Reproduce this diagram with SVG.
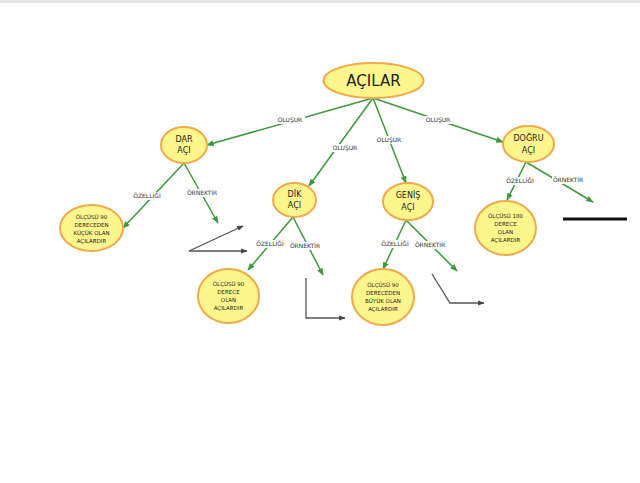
<svg xmlns="http://www.w3.org/2000/svg" width="640" height="483" viewBox="0 0 640 483">
<defs>
<marker id="ga" viewBox="0 0 10 10" refX="9" refY="5" markerWidth="5" markerHeight="5" orient="auto"><path d="M0,1 L10,5 L0,9 z" fill="#3c9a3c"/></marker>
<marker id="ka" viewBox="0 0 10 10" refX="9" refY="5" markerWidth="5" markerHeight="5" orient="auto"><path d="M0,1 L10,5 L0,9 z" fill="#444"/></marker>
<style>
.n{fill:#fdf68c;stroke:#f2a94a;stroke-width:2}
.t{font-family:"DejaVu Sans",sans-serif;fill:#222;text-anchor:middle}
.c{stroke:#3c9a3c;stroke-width:1.5;fill:none;marker-end:url(#ga)}
.g{stroke:#555;stroke-width:1.3;fill:none;marker-end:url(#ka)}
.lb{fill:#fff}
.l{font-family:"DejaVu Sans",sans-serif;font-size:6px;fill:#333;text-anchor:middle}
</style>
</defs>
<rect x="0" y="0" width="640" height="483" fill="#fff"/>
<rect x="0" y="0" width="640" height="3" fill="#e6e6e6"/>
<g id="connectors">
<line class="c" x1="373" y1="98" x2="207" y2="145"/>
<line class="c" x1="373" y1="98" x2="309" y2="186"/>
<line class="c" x1="373" y1="98" x2="406" y2="183"/>
<line class="c" x1="373" y1="98" x2="503" y2="142"/>
<line class="c" x1="184" y1="163" x2="123" y2="228"/>
<line class="c" x1="184" y1="163" x2="218" y2="223"/>
<line class="c" x1="293" y1="217" x2="248" y2="270"/>
<line class="c" x1="293" y1="217" x2="323" y2="275"/>
<line class="c" x1="406" y1="220" x2="383" y2="269"/>
<line class="c" x1="406" y1="220" x2="457" y2="271"/>
<line class="c" x1="526" y1="162" x2="507" y2="200"/>
<line class="c" x1="526" y1="162" x2="593" y2="202"/>
<g id="labels">
<rect class="lb" x="275" y="116" width="30" height="8"/><text class="l" x="290" y="122">OLUŞUR</text>
<rect class="lb" x="330" y="144" width="30" height="8"/><text class="l" x="345" y="150">OLUŞUR</text>
<rect class="lb" x="374" y="136" width="30" height="8"/><text class="l" x="389" y="142">OLUŞUR</text>
<rect class="lb" x="423" y="116" width="30" height="8"/><text class="l" x="438" y="122">OLUŞUR</text>
<rect class="lb" x="131" y="192" width="32" height="8"/><text class="l" x="147" y="198">ÖZELLİĞİ</text>
<rect class="lb" x="186" y="189" width="32" height="8"/><text class="l" x="202" y="195">ÖRNEKTİR</text>
<rect class="lb" x="254" y="240" width="32" height="8"/><text class="l" x="270" y="246">ÖZELLİĞİ</text>
<rect class="lb" x="289" y="242" width="32" height="8"/><text class="l" x="305" y="248">ÖRNEKTİR</text>
<rect class="lb" x="379" y="240" width="32" height="8"/><text class="l" x="395" y="246">ÖZELLİĞİ</text>
<rect class="lb" x="414" y="241" width="32" height="8"/><text class="l" x="430" y="247">ÖRNEKTİR</text>
<rect class="lb" x="504" y="177" width="32" height="8"/><text class="l" x="520" y="183">ÖZELLİĞİ</text>
<rect class="lb" x="552" y="176" width="32" height="8"/><text class="l" x="568" y="182">ÖRNEKTİR</text>
</g>
</g>
<g id="examples">
<line class="g" x1="189" y1="251" x2="243" y2="226"/>
<line class="g" x1="189" y1="251" x2="247" y2="251"/>
<polyline class="g" points="306,278 306,318 345,318"/>
<polyline class="g" points="432,274 450,303 484,303"/>
<line x1="563" y1="219" x2="627" y2="219" stroke="#111" stroke-width="3"/>
</g>
<g id="acilar"><ellipse class="n" cx="373.5" cy="80.5" rx="50" ry="17.5"/><text class="t" x="373.5" y="86" font-size="15">AÇILAR</text></g>
<g id="dar"><ellipse class="n" cx="184" cy="145" rx="23" ry="18"/><text class="t" x="184" y="142" font-size="8">DAR</text><text class="t" x="184" y="153" font-size="8">AÇI</text></g>
<g id="dik"><ellipse class="n" cx="294.5" cy="200" rx="21.5" ry="17"/><text class="t" x="294.5" y="197" font-size="8">DİK</text><text class="t" x="294.5" y="208" font-size="8">AÇI</text></g>
<g id="genis"><ellipse class="n" cx="408" cy="201.5" rx="25" ry="18.5"/><text class="t" x="408" y="198" font-size="8">GENİŞ</text><text class="t" x="408" y="210" font-size="8">AÇI</text></g>
<g id="dogru"><ellipse class="n" cx="528.5" cy="144" rx="25.5" ry="18"/><text class="t" x="528.5" y="141" font-size="8">DOĞRU</text><text class="t" x="528.5" y="153" font-size="8">AÇI</text></g>
<g id="dar-ozellik"><ellipse class="n" cx="91.5" cy="228" rx="31.5" ry="23"/><text class="t" font-size="5.5" x="91.5"><tspan x="91.5" y="219">ÖLÇÜSÜ 90</tspan><tspan x="91.5" y="227">DERECEDEN</tspan><tspan x="91.5" y="235">KÜÇÜK OLAN</tspan><tspan x="91.5" y="243">AÇILARDIR</tspan></text></g>
<g id="dik-ozellik"><ellipse class="n" cx="228.5" cy="296" rx="30.5" ry="27"/><text class="t" font-size="5.5"><tspan x="228.5" y="286">ÖLÇÜSÜ 90</tspan><tspan x="228.5" y="294">DERECE</tspan><tspan x="228.5" y="302">OLAN</tspan><tspan x="228.5" y="310">AÇILARDIR</tspan></text></g>
<g id="genis-ozellik"><ellipse class="n" cx="383" cy="297" rx="31" ry="28"/><text class="t" font-size="5.5"><tspan x="383" y="287">ÖLÇÜSÜ 90</tspan><tspan x="383" y="295">DERECEDEN</tspan><tspan x="383" y="303">BÜYÜK OLAN</tspan><tspan x="383" y="311">AÇILARDIR</tspan></text></g>
<g id="dogru-ozellik"><ellipse class="n" cx="505.5" cy="228" rx="30.5" ry="27"/><text class="t" font-size="5.5"><tspan x="505.5" y="218">ÖLÇÜSÜ 180</tspan><tspan x="505.5" y="226">DERECE</tspan><tspan x="505.5" y="234">OLAN</tspan><tspan x="505.5" y="242">AÇILARDIR</tspan></text></g>
</svg>
